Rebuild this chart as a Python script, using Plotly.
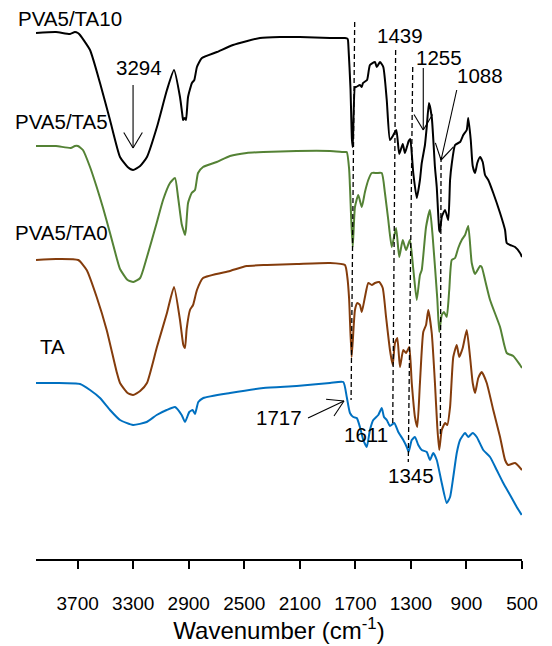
import math
import plotly.graph_objects as go

# ---------------- data (offset-stacked, arbitrary units) ----------------
series_names = ["PVA5/TA10", "PVA5/TA5", "PVA5/TA0", "TA"]
series_colors = ["#000000", "#548235", "#843C0C", "#0070C0"]

wn_ta10 = [4000, 3856, 3755, 3720, 3698, 3683, 3611, 3539, 3467, 3395, 3340, 3301, 3250, 3201, 3129,
           3057, 3006, 2963, 2945, 2941, 2930, 2920, 2905, 2877, 2860, 2841, 2805, 2697, 2581, 2387,
           2243, 2100, 1883, 1775, 1755, 1751, 1735, 1725, 1719, 1703, 1695, 1667, 1654, 1645, 1616,
           1595, 1559, 1546, 1523, 1499, 1474, 1451, 1430, 1405, 1384, 1359, 1343, 1316, 1305, 1283,
           1258, 1235, 1222, 1199, 1186, 1170, 1150, 1127, 1114, 1096, 1091, 1078, 1054, 1031, 1018,
           1006, 982, 946, 923, 898, 887, 869, 855, 838, 822, 802, 783, 766, 743, 707, 658, 622, 610,
           586, 550, 514, 500]
val_ta10 = [526, 527, 525, 527, 526, 524, 509, 476, 439, 402, 392, 389, 393, 402, 432,
            469, 489, 462, 443, 439, 441, 439, 462, 476, 479, 492, 501, 507, 514, 521,
            522, 522, 521, 521, 520, 515, 470, 420, 412, 472, 472, 474, 472, 476, 479,
            494, 497, 492, 497, 492, 459, 419, 423, 429, 405, 415, 406, 418, 420, 386,
            361, 379, 396, 414, 432, 456, 442, 392, 372, 329, 327, 342, 349, 339, 379,
            395, 414, 417, 424, 429, 441, 419, 393, 386, 396, 402, 397, 384, 379, 366, 346, 329, 316,
            314, 312, 306, 302]

wn_ta5 = [4000, 3856, 3750, 3720, 3698, 3662, 3611, 3563, 3517, 3467, 3419, 3395, 3340, 3299, 3250,
          3203, 3131, 3085, 3035, 2999, 2977, 2951, 2939, 2927, 2920, 2905, 2879, 2855, 2833, 2797,
          2699, 2603, 2483, 2363, 2123, 1883, 1775, 1762, 1745, 1730, 1719, 1703, 1679, 1654, 1631,
          1607, 1582, 1546, 1510, 1487, 1463, 1438, 1407, 1384, 1359, 1335, 1307, 1283, 1258, 1235,
          1222, 1191, 1163, 1143, 1110, 1096, 1078, 1062, 1042, 1024, 1006, 982, 959, 934, 910, 887,
          862, 838, 802, 790, 766, 730, 658, 610, 563, 514, 500]
val_ta5 = [413, 413, 411, 413, 413, 409, 392, 372, 351, 326, 301, 290, 279, 277, 281,
           301, 336, 359, 376, 381, 362, 335, 329, 324, 330, 356, 366, 369, 386, 392,
           397, 403, 406, 407, 408, 408, 407, 407, 390, 340, 312, 352, 364, 352, 367,
           379, 386, 386, 386, 366, 339, 312, 331, 302, 319, 309, 319, 290, 259, 284,
           289, 332, 349, 322, 260, 227, 244, 247, 242, 269, 299, 301, 311, 319, 324, 333,
           296, 285, 293, 292, 279, 259, 232, 206, 203, 194, 191]

wn_ta0 = [4000, 3856, 3696, 3635, 3563, 3491, 3419, 3395, 3340, 3301, 3250, 3201, 3129, 3057, 3006,
          2963, 2939, 2927, 2915, 2891, 2869, 2841, 2797, 2603, 2483, 2336, 2123, 1883, 1775, 1758,
          1745, 1727, 1703, 1686, 1667, 1654, 1631, 1607, 1582, 1559, 1528, 1503, 1479, 1451, 1431,
          1415, 1398, 1379, 1355, 1335, 1312, 1294, 1271, 1254, 1235, 1211, 1191, 1175, 1150, 1127,
          1110, 1096, 1078, 1054, 1038, 1018, 995, 970, 952, 927, 898, 874, 855, 838, 815, 790, 754,
          707, 658, 622, 599, 550, 500]
val_ta0 = [299, 300, 299, 289, 262, 229, 187, 176, 166, 164, 168, 176, 212, 246, 272,
           239, 214, 211, 230, 249, 254, 269, 281, 288, 293, 294, 295, 296, 294, 282,
           260, 202, 249, 256, 254, 247, 262, 276, 274, 276, 277, 271, 242, 209, 194,
           216, 221, 192, 209, 206, 212, 176, 142, 132, 176, 227, 234, 249, 226, 176,
           132, 109, 129, 136, 134, 152, 202, 214, 202, 211, 229, 202, 176, 166, 181, 187, 176,
           149, 122, 99, 94, 96, 89]

wn_ta = [4000, 3856, 3683, 3611, 3539, 3467, 3395, 3301, 3203, 3131, 3059, 2999, 2951, 2927, 2896,
         2872, 2855, 2831, 2795, 2603, 2363, 2123, 1883, 1787, 1762, 1739, 1715, 1690, 1667, 1643,
         1618, 1595, 1571, 1535, 1510, 1494, 1474, 1451, 1420, 1391, 1355, 1330, 1316, 1294, 1271,
         1247, 1222, 1186, 1163, 1139, 1114, 1078, 1042, 1018, 995, 970, 946, 910, 887, 855, 826,
         779, 730, 682, 635, 586, 538, 502]
val_ta = [176, 176, 175, 169, 161, 149, 139, 134, 137, 144, 149, 152, 144, 137, 147,
          149, 145, 157, 161, 166, 171, 173, 176, 177, 162, 146, 142, 141, 132, 119,
          112, 129, 139, 144, 151, 142, 139, 133, 136, 127, 119, 112, 107, 119, 122,
          114, 109, 107, 99, 106, 99, 76, 56, 62, 82, 106, 119, 126, 122, 126, 122,
          109, 102, 89, 76, 64, 52, 44]

tick_vals = [3700, 3300, 2900, 2500, 2100, 1700, 1300, 900, 500]

# name labels
name_label_wn = [3755, 3816, 3816, 3878]
name_label_y = [541, 437.5, 326.5, 212.5]

# peak labels
peak_text = ["3294", "1439", "1255", "1088", "1717", "1611", "1345"]
peak_label_wn = [3258, 1379, 1098, 803, 2250, 1620, 1300]
peak_label_y = [492, 524, 502, 483.5, 141.5, 124.5, 83.5]

# dashed guide lines: (wn_top, y_top, wn_bottom, y_bottom)
guide_lines = [(1705, 537, 1731, 159), (1410, 509, 1431, 134), (1287, 492, 1319, 97), (1083, 402, 1088, 124)]

# arrows: (tail_wn, tail_y, tip_wn, tip_y)
arrows = [(3301, 474, 3301, 411), (1211, 491, 1211, 429), (970, 469, 1083, 399), (2041, 141, 1782, 158)]

# ---------------- figure ----------------
# the page body has an 8px default margin, so the figure is 8px smaller than the window
W, H = 544, 638
ML, MR, MT, MB = 28, 30, 2, 87
X_RANGE = [4000, 500]
Y_RANGE = [0, 549]
FONT = "Arial, 'Liberation Sans', sans-serif"
LABEL_SIZE = 20.5

fig = go.Figure()
all_wn = [wn_ta10, wn_ta5, wn_ta0, wn_ta]
all_val = [val_ta10, val_ta5, val_ta0, val_ta]
for name, col, wn, val in zip(series_names, series_colors, all_wn, all_val):
    fig.add_trace(go.Scatter(x=wn, y=val, mode="lines", name=name,
                             line=dict(color=col, width=2, shape="spline", smoothing=0.5),
                             showlegend=False))

annotations = []
for name, xw, yv in zip(series_names, name_label_wn, name_label_y):
    annotations.append(dict(x=xw, y=yv, xref="x", yref="y", text=name, showarrow=False,
                            xanchor="center", yanchor="middle",
                            font=dict(size=LABEL_SIZE, color="black", family=FONT)))
for t, xw, yv in zip(peak_text, peak_label_wn, peak_label_y):
    annotations.append(dict(x=xw, y=yv, xref="x", yref="y", text=t, showarrow=False,
                            xanchor="center", yanchor="middle",
                            font=dict(size=LABEL_SIZE, color="black", family=FONT)))

shapes = []
for (w1, y1, w2, y2) in guide_lines:
    shapes.append(dict(type="line", xref="x", yref="y", x0=w1, y0=y1, x1=w2, y1=y2,
                       line=dict(color="black", width=1.3, dash="5px,3px")))

plot_w = W - ML - MR
plot_h = H - MT - MB
sx = plot_w / (X_RANGE[0] - X_RANGE[1])
sy = plot_h / (Y_RANGE[1] - Y_RANGE[0])
HEAD_LEN = 18
HALF_ANG = math.radians(31)
for (tw, ty, pw, py) in arrows:
    shapes.append(dict(type="line", xref="x", yref="y", x0=tw, y0=ty, x1=pw, y1=py,
                       line=dict(color="black", width=1.1)))
    dx = -(tw - pw) * sx
    dy = (ty - py) * sy
    base = math.atan2(dy, dx)
    for s in (1, -1):
        a = base + s * HALF_ANG
        hx = math.cos(a) * HEAD_LEN
        hy = math.sin(a) * HEAD_LEN
        shapes.append(dict(type="line", xref="x", yref="y", x0=pw - hx / sx, y0=py + hy / sy,
                           x1=pw, y1=py, line=dict(color="black", width=1.1)))

fig.update_layout(
    width=W, height=H,
    margin=dict(l=ML, r=MR, t=MT, b=MB),
    paper_bgcolor="white", plot_bgcolor="white",
    font=dict(family=FONT, color="black"),
    annotations=annotations, shapes=shapes,
    xaxis=dict(range=X_RANGE, tickvals=tick_vals, ticks="outside", ticklen=8, tickwidth=1.5,
               tickcolor="black", showline=True, linecolor="black", linewidth=1.8,
               showgrid=False, zeroline=False, tickfont=dict(size=19, family=FONT),
               ticklabelstandoff=18, automargin=False,
               title=dict(text="Wavenumber (cm<sup>-1</sup>)", font=dict(size=24, family=FONT), standoff=2)),
    yaxis=dict(range=Y_RANGE, visible=False, showgrid=False, zeroline=False),
)

fig.write_html("out.html")
